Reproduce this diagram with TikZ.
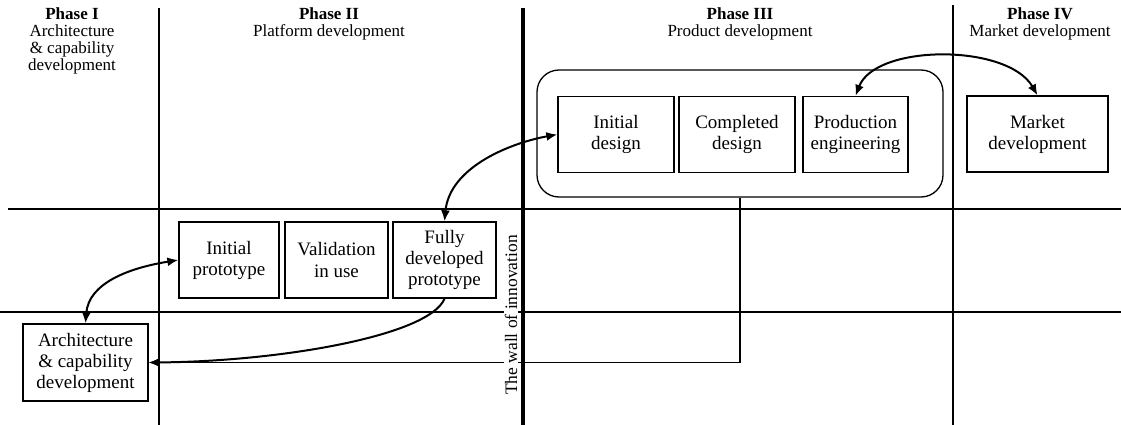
\documentclass[tikz,border=0pt]{standalone}
\usepackage{fontspec}
\setmainfont{Liberation Serif}
\usetikzlibrary{arrows.meta}

\begin{document}
\begin{tikzpicture}[x=1pt, y=-1pt,
  box/.style = {draw, line width=1.3pt, align=center, minimum height=76pt, inner sep=0pt, font=\fontsize{19}{21}\selectfont},
  head/.style = {align=center, anchor=north, inner sep=0pt, font=\fontsize{17}{17}\selectfont},
  grid/.style = {line width=1.3pt},
  wedge/.tip = {Latex[length=11pt,width=9pt]},
  link/.style = {line width=2pt, wedge-wedge}]
        \useasboundingbox (0,0) rectangle (1121,425);
        \draw[grid] (8,209) -- (1121,209);
        \draw[grid] (0,312) -- (1121,312);
        \draw[grid] (159,8) -- (159,425);
        \draw[grid] (953,5) -- (953,425);
        \node[head] (ph1) at (72,8) {\textbf{Phase I}\\Architecture\\\& capability\\development};
        \node[head] (ph2) at (329,8) {\textbf{Phase II}\\Platform development};
        \node[head] (ph3) at (740,8) {\textbf{Phase III}\\Product development};
        \node[head] (ph4) at (1040,8) {\textbf{Phase IV}\\Market development};
        \node[draw, line width=1.3pt, rounded corners=22pt, minimum width=406pt, minimum height=127pt] (cont) at (740,133.5) {};
        \node[box, minimum width=116pt] (idesign) at (616,134.5) {Initial\\design};
        \node[box, minimum width=116pt] (cdesign) at (737,134.5) {Completed\\design};
        \node[box, minimum width=105pt] (prodeng) at (855.5,134.5) {Production\\engineering};
        \node[box, minimum width=141pt] (market) at (1037.5,134) {Market\\development};
        \node[box, minimum width=100pt] (iproto) at (229,260) {Initial\\prototype};
        \node[box, minimum width=103pt] (valid) at (336.5,260) {Validation\\in use};
        \node[box, minimum width=103pt] (fully) at (444.5,260) {Fully\\developed\\prototype};
        \node[box, minimum width=125pt, minimum height=77pt] (arch) at (85.5,362.5) {Architecture\\\& capability\\development};
        \draw[link] (prodeng.north) .. controls +(20,-52) and +(-30,-52) .. (market.north);
        \draw[link] (fully.north) .. controls +(5,-55) and +(-45,8) .. (idesign.west);
        \draw[link] (arch.north) .. controls +(3,-40) and +(-50,8) .. (iproto.west);
        \draw[line width=2pt, -wedge] (fully.south) .. controls +(-15,37) and +(132,-1) .. (arch.east);
        \draw[grid, -wedge] (cont.south) |- (arch.east);
        \node[rotate=90, fill=white, inner sep=1pt, font=\fontsize{17.5}{17}\selectfont] (wall) at (511,315) {The wall of innovation};
        \draw[line width=3.5pt] (523,8) -- (523,425);
      \end{tikzpicture}
\end{document}
